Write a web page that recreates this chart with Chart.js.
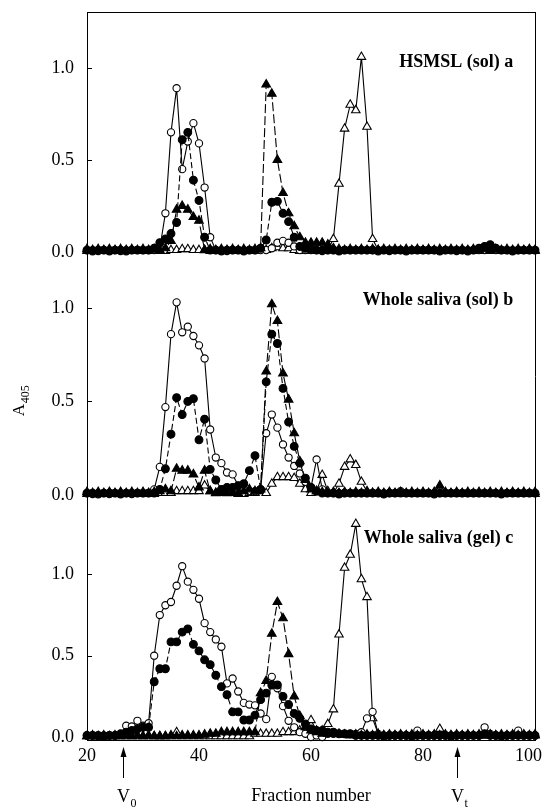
<!DOCTYPE html>
<html><head><meta charset="utf-8">
<script src="https://cdn.jsdelivr.net/npm/chart.js@4/dist/chart.umd.min.js"></script>
<style>html,body{margin:0;padding:0;background:#fff;}#wrap{width:543px;height:807px;}</style>
</head><body><div id="wrap"><canvas id="c" width="543" height="807"></canvas></div>
<script>
// ---- data ----
const fractions = [20,21,22,23,24,25,26,27,28,29,30,31,32,33,34,35,36,37,38,39,40,41,42,43,44,45,46,47,48,49,50,51,52,53,54,55,56,57,58,59,60,61,62,63,64,65,66,67,68,69,70,71,72,73,74,75,76,77,78,79,80,81,82,83,84,85,86,87,88,89,90,91,92,93,94,95,96,97,98,99,100];
const xTicks = [20,40,60,80,100];
const yTicks = [0, 0.5, 1.0];
const panelTitles = ['HSMSL (sol) a','Whole saliva (sol) b','Whole saliva (gel) c'];
const yAxisTitle = 'A';
const yAxisTitleSub = '405';
const xAxisTitle = 'Fraction number';
const v0Fraction = 26.5;
const vtFraction = 86;

// Panel a
const aOpen = [0.01,0.01,0.005,0.01,0.01,0.01,0.005,0.01,0.01,0.01,
  0.01,0.01,0.01,0.02,0.21,0.65,0.89,0.45,0.60,0.70,
  0.59,0.35,0.08,0.01,0.01,0.005,0.01,0.01,0.01,0.01,
  0.01,0.01,0.01,0.02,0.05,0.06,0.05,0.03,0.01,0.01,
  0.01,0.01,0.005,0.01,0.01,0.01,0.01,0.01,0.01,0.01,
  0.01,0.01,0.01,0.01,0.005,0.01,0.01,0.01,0.01,0.01,
  0.01,0.01,0.01,0.01,0.01,0.01,0.005,0.01,0.01,0.01,
  0.01,0.01,0.02,0.01,0.01,0.01,0.01,0.01,0.01,0.01,
  0.01];
const aFilled = [0.01,0.005,0.01,0.01,0.005,0.01,0.01,0.005,0.01,0.01,
  0.01,0.01,0.02,0.05,0.07,0.10,0.16,0.61,0.65,0.39,
  0.28,0.08,0.01,0.01,0.005,0.01,0.01,0.01,0.005,0.01,
  0.01,0.02,0.065,0.27,0.275,0.21,0.165,0.08,0.03,0.02,
  0.015,0.01,0.01,0.01,0.01,0.005,0.01,0.01,0.01,0.01,
  0.01,0.01,0.005,0.01,0.01,0.01,0.01,0.005,0.01,0.01,
  0.01,0.01,0.01,0.005,0.01,0.01,0.01,0.01,0.005,0.01,
  0.02,0.03,0.04,0.02,0.01,0.01,0.005,0.01,0.01,0.01,
  0.01];
const aFilledTri = [0.015,0.01,0.015,0.01,0.015,0.01,0.015,0.01,0.015,0.01,
  0.015,0.01,0.015,0.01,0.02,0.06,0.23,0.25,0.23,0.19,
  0.17,0.01,0.015,0.01,0.015,0.01,0.015,0.01,0.015,0.01,
  0.015,0.02,0.91,0.86,0.50,0.32,0.21,0.14,0.08,0.05,
  0.05,0.05,0.05,0.04,0.02,0.015,0.01,0.015,0.01,0.015,
  0.01,0.015,0.01,0.015,0.01,0.015,0.01,0.015,0.01,0.015,
  0.01,0.015,0.01,0.015,0.01,0.015,0.01,0.015,0.01,0.015,
  0.01,0.015,0.01,0.015,0.01,0.015,0.01,0.015,0.01,0.015,
  0.01];
const aOpenTri = [0.005,0.005,0.005,0.005,0.005,0.005,0.005,0.005,0.005,0.005,
  0.005,0.005,0.005,0.005,0.005,0.01,0.01,0.015,0.015,0.01,
  0.01,0.01,0.005,0.005,0.005,0.005,0.005,0.005,0.005,0.005,
  0.005,0.01,0.01,0.02,0.025,0.02,0.02,0.01,0.005,0.005,
  0.005,0.005,0.005,0.01,0.07,0.37,0.67,0.80,0.77,1.06,
  0.68,0.07,0.01,0.005,0.005,0.005,0.005,0.005,0.005,0.005,
  0.005,0.005,0.005,0.005,0.005,0.005,0.005,0.005,0.005,0.005,
  0.005,0.005,0.005,0.005,0.005,0.005,0.005,0.005,0.005,0.005,
  0.005];

// Panel b
const bOpen = [0.01,0.005,0.01,0.01,0.005,0.01,0.01,0.01,0.005,0.01,
  0.01,0.01,0.03,0.15,0.47,0.86,1.03,0.87,0.90,0.85,
  0.80,0.73,0.35,0.20,0.17,0.12,0.11,0.05,0.03,0.02,
  0.02,0.03,0.33,0.43,0.36,0.27,0.20,0.155,0.115,0.07,
  0.04,0.19,0.03,0.01,0.01,0.01,0.01,0.01,0.01,0.01,
  0.01,0.01,0.01,0.01,0.01,0.01,0.02,0.01,0.01,0.01,
  0.01,0.01,0.01,0.01,0.01,0.01,0.01,0.01,0.01,0.01,
  0.01,0.01,0.01,0.01,0.01,0.01,0.01,0.01,0.01,0.01,
  0.01];
const bFilled = [0.01,0.01,0.005,0.01,0.01,0.01,0.005,0.01,0.01,0.01,
  0.01,0.01,0.01,0.03,0.14,0.325,0.52,0.43,0.50,0.515,
  0.295,0.405,0.137,0.08,0.03,0.04,0.04,0.05,0.06,0.13,
  0.21,0.03,0.605,0.86,0.81,0.57,0.39,0.26,0.17,0.09,
  0.04,0.02,0.01,0.01,0.01,0.005,0.01,0.01,0.01,0.01,
  0.01,0.01,0.01,0.005,0.01,0.01,0.01,0.01,0.01,0.01,
  0.01,0.01,0.005,0.01,0.01,0.01,0.01,0.01,0.01,0.01,
  0.01,0.01,0.01,0.01,0.005,0.01,0.01,0.01,0.01,0.01,
  0.01];
const bFilledTri = [0.015,0.01,0.015,0.01,0.015,0.01,0.015,0.01,0.015,0.01,
  0.015,0.01,0.015,0.02,0.03,0.02,0.14,0.13,0.13,0.11,
  0.04,0.13,0.02,0.01,0.015,0.01,0.015,0.01,0.02,0.03,
  0.02,0.03,0.66,1.02,0.93,0.65,0.51,0.33,0.18,0.08,
  0.03,0.02,0.015,0.01,0.015,0.01,0.015,0.01,0.015,0.01,
  0.015,0.01,0.015,0.01,0.015,0.01,0.015,0.01,0.015,0.01,
  0.015,0.01,0.015,0.05,0.015,0.01,0.015,0.01,0.015,0.01,
  0.015,0.01,0.015,0.01,0.015,0.01,0.015,0.01,0.015,0.01,
  0.015];
const bOpenTri = [0.005,0.005,0.005,0.005,0.005,0.005,0.005,0.005,0.005,0.005,
  0.005,0.005,0.005,0.01,0.01,0.01,0.02,0.02,0.02,0.02,
  0.02,0.05,0.02,0.01,0.01,0.01,0.01,0.005,0.005,0.01,
  0.01,0.02,0.01,0.06,0.095,0.095,0.095,0.09,0.06,0.03,
  0.01,0.02,0.107,0.02,0.01,0.06,0.15,0.19,0.16,0.07,
  0.02,0.01,0.005,0.005,0.005,0.005,0.005,0.005,0.005,0.005,
  0.005,0.005,0.005,0.005,0.005,0.005,0.005,0.005,0.005,0.005,
  0.005,0.005,0.005,0.005,0.005,0.005,0.005,0.005,0.005,0.005,
  0.005];

// Panel c
const cOpen = [0.01,0.01,0.005,0.01,0.01,0.01,0.02,0.07,0.065,0.10,
  0.07,0.085,0.50,0.75,0.81,0.83,0.93,1.05,0.955,0.905,
  0.85,0.70,0.645,0.60,0.555,0.33,0.36,0.28,0.21,0.20,
  0.195,0.145,0.11,0.37,0.30,0.19,0.10,0.06,0.03,0.02,
  0.0,0.01,0.0,0.02,0.02,0.02,0.02,0.02,0.02,0.03,
  0.115,0.155,0.02,0.01,0.01,0.01,0.01,0.01,0.01,0.04,
  0.01,0.01,0.01,0.01,0.01,0.01,0.01,0.01,0.01,0.01,
  0.01,0.06,0.02,0.01,0.01,0.01,0.01,0.04,0.01,0.01,
  0.01];
const cFilled = [0.01,0.01,0.01,0.005,0.01,0.01,0.02,0.03,0.04,0.05,
  0.06,0.06,0.34,0.42,0.42,0.585,0.585,0.645,0.665,0.57,
  0.53,0.475,0.445,0.38,0.31,0.26,0.155,0.155,0.105,0.105,
  0.135,0.23,0.27,0.32,0.32,0.25,0.20,0.145,0.115,0.08,
  0.05,0.04,0.04,0.03,0.03,0.02,0.02,0.02,0.01,0.01,
  0.01,0.01,0.01,0.005,0.01,0.01,0.01,0.01,0.005,0.01,
  0.01,0.01,0.01,0.01,0.01,0.005,0.01,0.01,0.01,0.01,
  0.01,0.02,0.01,0.01,0.005,0.01,0.01,0.01,0.01,0.01,
  0.01];
const cFilledTri = [0.005,0.01,0.005,0.01,0.005,0.01,0.005,0.01,0.005,0.01,
  0.005,0.01,0.005,0.005,0.005,0.01,0.005,0.01,0.01,0.01,
  0.01,0.015,0.02,0.02,0.03,0.03,0.03,0.03,0.03,0.03,
  0.03,0.27,0.345,0.635,0.83,0.73,0.51,0.25,0.13,0.06,
  0.04,0.03,0.02,0.02,0.02,0.02,0.015,0.01,0.015,0.01,
  0.015,0.01,0.015,0.01,0.015,0.01,0.015,0.01,0.015,0.01,
  0.015,0.01,0.015,0.01,0.015,0.01,0.015,0.01,0.015,0.01,
  0.015,0.01,0.015,0.01,0.015,0.01,0.015,0.01,0.015,0.01,
  0.015];
const cOpenTri = [0.005,0.005,0.005,0.005,0.005,0.005,0.005,0.005,0.005,0.005,
  0.005,0.005,0.005,0.005,0.005,0.005,0.03,0.005,0.005,0.005,
  0.005,0.005,0.005,0.005,0.005,0.005,0.005,0.005,0.005,0.005,
  0.02,0.02,0.02,0.02,0.02,0.03,0.03,0.03,0.04,0.04,
  0.104,0.04,0.04,0.08,0.17,0.63,1.04,1.12,1.31,0.97,
  0.86,0.115,0.02,0.01,0.01,0.01,0.01,0.01,0.01,0.01,
  0.01,0.01,0.01,0.05,0.01,0.01,0.01,0.01,0.01,0.01,
  0.01,0.01,0.01,0.01,0.01,0.01,0.01,0.01,0.01,0.01,
  0.01];

// ---- styling / layout ----
const FONT = '"Liberation Serif", "Times New Roman", serif';
const panels = [
  {axis:'ya', min:-0.022, max:1.304, weight:244, title:panelTitles[0], series:[aFilled,aFilledTri,aOpen,aOpenTri], tx:96.1, ty:1.03},
  {axis:'yb', min:-0.027, max:1.278, weight:244, title:panelTitles[1], series:[bFilled,bFilledTri,bOpen,bOpenTri], tx:96.1, ty:1.04},
  {axis:'yc', min:-0.018, max:1.457, weight:240, title:panelTitles[2], series:[cFilled,cFilledTri,cOpen,cOpenTri], tx:96.1, ty:1.22}
];
const seriesStyles = [
  {pointStyle:'circle', radius:3.9, bg:'#000', dash:[6,3]},
  {pointStyle:'triangle', radius:5.0, bg:'#000', dash:[9,3]},
  {pointStyle:'circle', radius:3.6, bg:'#fff', dash:[]},
  {pointStyle:'triangle', radius:4.9, bg:'#fff', dash:[]}
];

const datasets = [];
panels.forEach(p => {
  p.series.forEach((vals, k) => {
    const st = seriesStyles[k];
    datasets.push({
      data: fractions.map((f, i) => ({x: f, y: vals[i]})),
      yAxisID: p.axis,
      xAxisID: 'x',
      borderColor: '#000',
      borderWidth: 1.1,
      borderDash: st.dash,
      pointStyle: st.pointStyle,
      pointRadius: st.radius,
      pointBackgroundColor: st.bg,
      pointBorderColor: '#000',
      pointBorderWidth: 1.1,
      tension: 0,
      clip: false
    });
  });
});

const scales = {
  x: {
    type: 'linear', position: 'bottom', min: 20, max: 100,
    grid: {display: false, drawTicks: false},
    border: {display: true, color: '#000', width: 1},
    ticks: {display: false},
    afterBuildTicks: s => { s.ticks = xTicks.map(v => ({value: v})); },
    afterFit: s => { s.height = 67; s.paddingLeft = 0; s.paddingRight = 0; }
  }
};
panels.forEach((p, idx) => {
  scales[p.axis] = {
    type: 'linear', position: 'left', stack: 'panels', stackWeight: p.weight,
    weight: 3 - idx,
    min: p.min, max: p.max,
    grid: {display: false, drawTicks: false},
    border: {display: true, color: '#000', width: 1},
    ticks: {color: '#000', font: {family: FONT, size: 18}, padding: 13,
      callback: v => Number(v).toFixed(1)},
    afterBuildTicks: s => { s.ticks = yTicks.map(v => ({value: v})); },
    afterFit: s => { s.width = 87; s.paddingTop = 0; s.paddingBottom = 0; }
  };
});

function drawSub(ctx, x, y, main, sub, size, subSize, align) {
  ctx.font = size + 'px ' + FONT;
  const w1 = ctx.measureText(main).width;
  ctx.font = subSize + 'px ' + FONT;
  const w2 = ctx.measureText(sub).width;
  let x0 = align === 'center' ? x - (w1 + w2) / 2 : x;
  ctx.textAlign = 'left';
  ctx.textBaseline = 'alphabetic';
  ctx.font = size + 'px ' + FONT;
  ctx.fillText(main, x0, y);
  ctx.font = subSize + 'px ' + FONT;
  ctx.fillText(sub, x0 + w1 + 0.5, y + size * 0.3);
}

const decor = {
  id: 'decor',
  afterDraw(chart) {
    const ctx = chart.ctx;
    const a = chart.chartArea;
    const xs = chart.scales.x;
    ctx.save();
    ctx.strokeStyle = '#000';
    ctx.fillStyle = '#000';
    ctx.lineWidth = 1;
    // frame top & right
    ctx.beginPath();
    ctx.moveTo(a.left, a.top + 0.5); ctx.lineTo(a.right + 0.5, a.top + 0.5);
    ctx.moveTo(a.right + 0.5, a.top); ctx.lineTo(a.right + 0.5, a.bottom + 1);
    ctx.stroke();
    // inward y ticks & panel titles
    panels.forEach(p => {
      const ys = chart.scales[p.axis];
      ctx.beginPath();
      yTicks.forEach(v => {
        const y = Math.round(ys.getPixelForValue(v)) + 0.5;
        ctx.moveTo(a.left, y); ctx.lineTo(a.left + 5, y);
      });
      ctx.stroke();
      ctx.font = 'bold 18px ' + FONT;
      ctx.textAlign = 'right';
      ctx.textBaseline = 'middle';
      ctx.fillText(p.title, xs.getPixelForValue(p.tx), ys.getPixelForValue(p.ty));
    });
    // x tick labels
    ctx.font = '18px ' + FONT;
    ctx.textBaseline = 'middle';
    ctx.textAlign = 'center';
    xTicks.forEach(v => {
      let x = xs.getPixelForValue(v);
      const w = ctx.measureText(String(v)).width;
      if (x + w / 2 > chart.width - 1) x = chart.width - 1 - w / 2;
      ctx.fillText(String(v), x, a.bottom + 16);
    });
    // x title
    ctx.fillText(xAxisTitle, (a.left + a.right) / 2, a.bottom + 56);
    // arrows
    [[v0Fraction, '0'], [vtFraction, 't']].forEach(([f, sub]) => {
      const x = Math.round(xs.getPixelForValue(f)) + 0.5;
      ctx.beginPath();
      ctx.moveTo(x, a.bottom + 14); ctx.lineTo(x, a.bottom + 38);
      ctx.stroke();
      ctx.beginPath();
      ctx.moveTo(x, a.bottom + 7);
      ctx.lineTo(x - 3, a.bottom + 17);
      ctx.lineTo(x + 3, a.bottom + 17);
      ctx.closePath();
      ctx.fill();
      ctx.font = '18px ' + FONT;
      const wV = ctx.measureText('V').width;
      drawSub(ctx, x - wV / 2, a.bottom + 62, 'V', sub, 18, 12, 'left');
    });
    // y title (rotated)
    ctx.translate(24, 401);
    ctx.rotate(-Math.PI / 2);
    drawSub(ctx, 0, 0, yAxisTitle, yAxisTitleSub, 17, 12, 'center');
    ctx.restore();
  }
};

new Chart(document.getElementById('c'), {
  type: 'line',
  data: {datasets},
  options: {
    responsive: false,
    devicePixelRatio: 1,
    animation: false,
    layout: {padding: {top: 12, right: 8, left: 0, bottom: 0}},
    plugins: {legend: {display: false}, tooltip: {enabled: false}},
    scales
  },
  plugins: [decor]
});
</script>
</body></html>
